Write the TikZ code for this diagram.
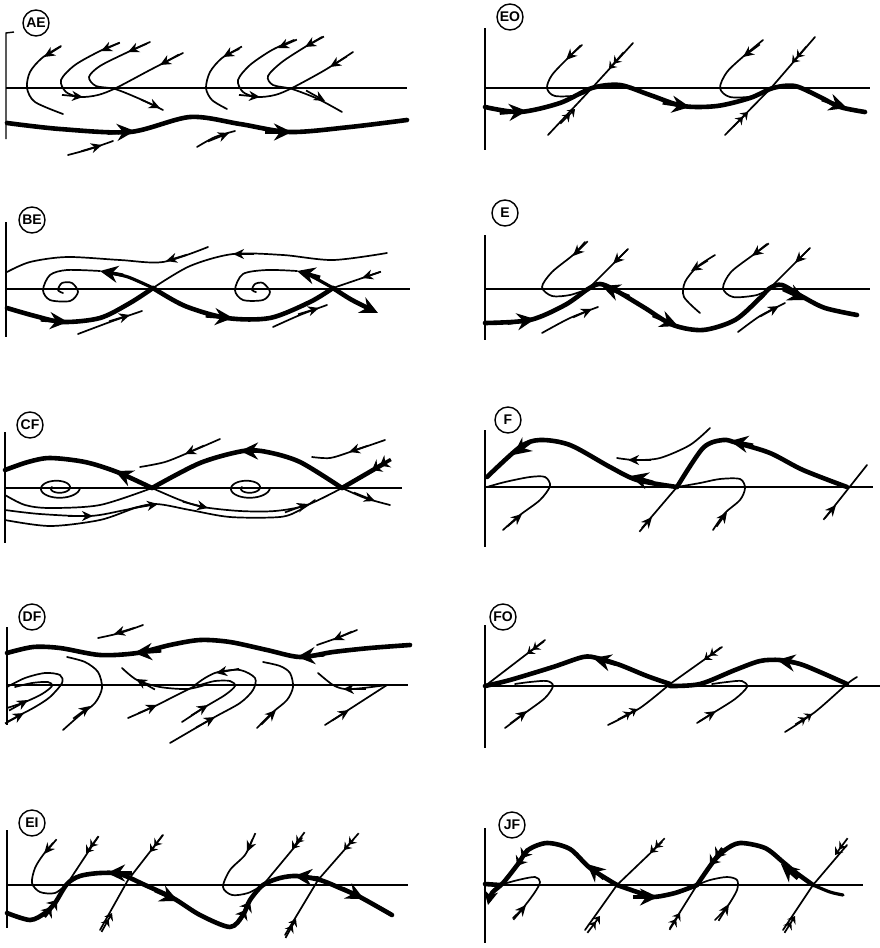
\documentclass[tikz,border=0pt]{standalone}
\usepackage{fontspec}
\setmainfont{Liberation Sans}
\usetikzlibrary{arrows.meta,calc}
\tikzset{
  tl/.style={line width=1.7pt, line cap=round, line join=round},
  tk/.style={line width=4.6pt, line cap=round, line join=round},
  ax/.style={line width=1.4pt},
  lab/.style={draw, circle, line width=1.4pt, minimum size=26pt, inner sep=0pt, font=\bfseries\fontsize{14}{14}\selectfont},
  ah/.style={line width=1.7pt, -{Stealth[length=11pt,width=10pt,inset=3.5pt]}},
  ahd/.style={line width=1.7pt, -{Stealth[length=7pt,width=10pt,inset=2.5pt]Stealth[length=7pt,width=10pt,inset=2.5pt]}},
  ahk/.style={line width=3.5pt, -{Stealth[length=18pt,width=17pt,inset=6pt]}},
  ahkd/.style={line width=3.5pt, -{Stealth[length=9pt,width=14pt,inset=3pt]Stealth[length=9pt,width=14pt,inset=3pt]}},
}
\newcommand\arw[3]{\draw[#1] ($(#3)!2.1!(#2)$) -- (#3);}
\begin{document}
\begin{tikzpicture}[x=1pt,y=-1pt]
\useasboundingbox (0,0) rectangle (879,948);

% ================= AE =================
\node[lab] (lAE) at (36,23) {AE};
\draw[ax] (14,32) -- (6,33) -- (6,139);
\draw[ax] (6,88) -- (407,88);
\draw[tk] plot[smooth] coordinates {(7,123) (60,129) (130,132) (190,117) (240,124) (290,132) (350,127) (407,120)};
\arw{ahk}{122,132}{135,131}
\arw{ahk}{279,132}{292,132}
\draw[tl] plot[smooth] coordinates {(68,155) (90,149) (113,141)};
\arw{ah}{92,148}{102,145}
\draw[tl] plot[smooth] coordinates {(197,147) (215,137) (235,131)};
\arw{ah}{219,137}{229,133}
\draw[tl] plot[smooth] coordinates {(61,46) (42,58) (30,72) (27,88) (35,102) (63,114)};
\arw{ah}{52,52}{44,57}
\draw[tl] plot[smooth] coordinates {(119,43) (100,51) (75,65) (61,80) (66,92) (80,97) (98,95) (116,88) (150,70) (183,53)};
\arw{ah}{110,47}{101,51}
\arw{ah}{73,96}{83,97}
\arw{ah}{169,60}{160,65}
\draw[tl] plot[smooth] coordinates {(150,42) (128,52) (100,66) (89,77) (96,86) (115,89) (140,99) (163,110)};
\arw{ah}{137,48}{128,52}
\arw{ah}{151,104}{160,108}
\draw[tl] plot[smooth] coordinates {(239,49) (222,58) (210,72) (206,88) (212,100) (227,109)};
\arw{ah}{232,52}{223,57}
\draw[tl] plot[smooth] coordinates {(294,40) (272,50) (250,65) (238,80) (243,92) (257,97) (275,95) (292,88) (325,70) (353,52)};
\arw{ah}{287,44}{278,48}
\arw{ah}{250,96}{260,97}
\arw{ah}{338,62}{330,67}
\draw[tl] plot[smooth] coordinates {(322,37) (305,47) (282,62) (268,76) (273,85) (292,89) (318,99) (342,112)};
\arw{ah}{314,42}{305,47}
\arw{ah}{316,96}{325,101}

% ================= EO =================
\node[lab] (lEO) at (510,17) {EO};
\draw[ax] (485,28) -- (485,150);
\draw[ax] (485,88) -- (870,88);
\draw[tk] plot[smooth] coordinates {(485,107) (520,112) (560,103) (592,88) (620,85) (650,95) (683,106) (717,106) (750,98) (773,88) (795,86) (820,97) (840,107) (865,112)};
\arw{ahk}{514,112}{527,111}
\arw{ahk}{677,105}{690,107}
\arw{ahk}{835,104}{847,108}
\draw[tl] plot[smooth] coordinates {(582,45) (568,58) (552,75) (547,88) (555,96) (580,95) (592,88)};
\arw{ah}{573,53}{566,60}
\draw[tl] (633,43) -- (592,88);
\arw{ahd}{616,61}{609,69}
\draw[tl] (548,135) -- (592,88);
\arw{ahd}{568,116}{575,109}
\draw[tl] plot[smooth] coordinates {(763,40) (745,55) (727,72) (720,88) (730,97) (755,96) (771,88)};
\arw{ah}{751,51}{743,57}
\draw[tl] (815,37) -- (771,88);
\arw{ahd}{799,55}{792,63}
\draw[tl] (725,135) -- (771,88);
\arw{ahd}{741,119}{748,112}

% ================= BE =================
\node[lab] (lBE) at (32,220) {BE};
\draw[ax] (6,222) -- (6,337);
\draw[ax] (6,289) -- (410,289);
\draw[tk] plot[smooth] coordinates {(7,308) (35,316) (63,322) (100,318) (130,303) (153,288)};
\arw{ahk}{55,321}{68,322}
\draw[tk] plot[smooth] coordinates {(153,288) (185,306) (227,318) (270,318) (310,302) (333,288)};
\arw{ahk}{220,317}{233,318}
\draw[tk, -{Stealth[length=18pt,width=17pt,inset=6pt]}] plot[smooth] coordinates {(333,288) (352,300) (378,313)};
\draw[line width=3.2pt, line cap=round] plot[smooth] coordinates {(153,288) (128,277) (106,272)};
\arw{ahk}{111,273}{100,271}
\draw[line width=3.2pt, line cap=round] plot[smooth] coordinates {(333,288) (315,278) (303,272)};
\arw{ahk}{308,274}{297,271}
\draw[tl] plot[smooth] coordinates {(100,271) (67,270) (50,275) (43,290) (50,300) (70,301) (78,292) (72,283) (62,283) (58,290) (63,293)};
\draw[tl] plot[smooth] coordinates {(297,271) (267,270) (243,274) (235,290) (243,300) (263,300) (270,292) (263,283) (255,284) (252,290) (256,292)};
\draw[tl] plot[smooth] coordinates {(208,247) (163,262) (120,260) (67,257) (30,262) (7,272)};
\arw{ah}{176,258}{166,261}
\draw[tl] plot[smooth] coordinates {(387,253) (333,260) (283,255) (233,254) (190,266) (153,288)};
\arw{ah}{243,254}{233,254}
\draw[tl] (380,272) -- (333,288);
\arw{ah}{371,275}{362,278}
\draw[tl] plot[smooth] coordinates {(78,334) (110,322) (142,311)};
\arw{ah}{120,318}{130,315}
\draw[tl] plot[smooth] coordinates {(273,327) (300,315) (327,305)};
\arw{ah}{309,311}{319,308}

% ================= E =================
\node[lab] (lE) at (505,213) {E};
\draw[ax] (485,235) -- (485,340);
\draw[ax] (485,289) -- (870,289);
\draw[tk] plot[smooth] coordinates {(485,323) (530,320) (565,305) (588,289) (600,284) (615,290) (645,308) (673,325) (703,330) (735,320) (760,298) (770,288) (782,285) (803,297) (825,308) (857,315)};
\arw{ahk}{522,321}{535,319}
\arw{ahk}{615,291}{602,286}
\arw{ahk}{666,321}{678,326}
\arw{ahk}{795,295}{806,300}
\draw[tl] plot[smooth] coordinates {(585,242) (573,255) (552,272) (542,287) (552,296) (570,295) (588,289)};
\arw{ah}{580,249}{573,256}
\draw[tl] (628,249) -- (588,289);
\arw{ah}{620,257}{613,264}
\draw[tl] plot[smooth] coordinates {(542,333) (570,318) (598,307)};
\arw{ah}{583,313}{592,309}
\draw[tl] plot[smooth] coordinates {(715,255) (697,267) (685,282) (684,297) (700,313)};
\arw{ah}{699,266}{691,271}
\draw[tl] plot[smooth] coordinates {(767,244) (753,255) (731,272) (723,288) (733,297) (757,295) (770,288)};
\arw{ah}{760,250}{752,256}
\draw[tl] (810,248) -- (770,288);
\arw{ah}{802,256}{795,263}
\draw[tl] plot[smooth] coordinates {(738,332) (760,316) (785,303)};
\arw{ah}{770,311}{779,306}

% ================= CF =================
\node[lab] (lCF) at (30,425) {CF};
\draw[ax] (5,432) -- (5,543);
\draw[ax] (5,488) -- (402,488);
\draw[tk] plot[smooth] coordinates {(152,488) (117,472) (85,462) (50,458) (28,462) (5,470)};
\arw{ahk}{124,475}{115,471}
\draw[tk] plot[smooth] coordinates {(342,488) (300,462) (267,452) (243,451) (200,463) (152,488)};
\arw{ahk}{252,451}{240,451}
\draw[tk] (385,463) -- (342,488);
\arw{ahkd}{381,465}{372,470}
\draw[tl] plot[smooth] coordinates {(5,495) (25,505) (50,508) (100,505) (152,488)};
\draw[tl] plot[domain=0:560, samples=90, smooth, variable=\t] ({58+(22-0.028*\t)*cos(\t)}, {488+0.5*(22-0.028*\t)*sin(\t)});
\draw[tl] plot[domain=0:560, samples=90, smooth, variable=\t] ({248+(22-0.028*\t)*cos(\t)}, {488+0.5*(22-0.028*\t)*sin(\t)});
\draw[tl] plot[smooth] coordinates {(152,488) (180,500) (203,507) (240,511) (275,511) (307,505) (342,488)};
\arw{ah}{196,505}{208,508}
\arw{ah}{297,508}{308,504}
\draw[tl] plot[smooth] coordinates {(5,510) (40,514) (90,516) (125,510) (155,504) (190,510) (230,517) (280,517) (300,510) (315,500)};
\arw{ah}{81,516}{93,516}
\arw{ah}{146,506}{158,504}
\draw[tl] plot[smooth] coordinates {(5,520) (50,526) (100,520) (135,508) (155,504)};
\draw[tl] plot[smooth] coordinates {(220,439) (190,452) (165,462) (140,467)};
\arw{ah}{194,450}{185,454}
\draw[tl] plot[smooth] coordinates {(385,440) (350,452) (330,458) (312,457)};
\arw{ah}{358,449}{349,452}
\draw[tl] plot[smooth] coordinates {(342,488) (365,498) (390,505)};
\arw{ah}{365,497}{375,501}

% ================= F =================
\node[lab] (lF) at (508,420) {F};
\draw[ax] (485,430) -- (485,547);
\draw[ax] (485,487) -- (873,487);
\draw[tk] plot[smooth] coordinates {(677,487) (637,480) (610,467) (570,445) (540,440) (520,447) (487,477)};
\arw{ahk}{641,479}{630,476}
\arw{ahk}{521,449}{513,455}
\draw[tk] plot[smooth] coordinates {(847,487) (803,470) (770,453) (737,443) (723,440) (703,448) (677,487)};
\arw{ahk}{741,443}{730,441}
\draw[tl] plot[smooth] coordinates {(503,530) (520,515) (540,500) (550,486) (545,477) (530,477) (505,482) (487,487)};
\arw{ah}{515,520}{522,514}
\draw[tl] plot[smooth] coordinates {(713,530) (725,513) (740,500) (745,488) (740,479) (720,479) (700,483) (677,487)};
\arw{ah}{722,519}{727,512}
\draw[tl] (642,528) -- (677,487);
\arw{ah}{646,524}{652,517}
\draw[tl] plot[smooth] coordinates {(710,428) (690,445) (660,458) (635,460) (617,458)};
\arw{ah}{639,460}{628,460}
\draw[tl] (825,518) -- (867,465);
\arw{ah}{830,512}{836,505}

% ================= DF =================
\node[lab] (lDF) at (32,617) {DF};
\draw[ax] (7,627) -- (7,725);
\draw[ax] (7,685) -- (408,685);
\draw[tk] plot[smooth] coordinates {(410,645) (370,648) (333,652) (300,657) (267,650) (230,642) (200,640) (170,645) (137,653) (100,655) (60,648) (33,647) (7,653)};
\arw{ahk}{310,656}{297,657}
\arw{ahk}{147,652}{134,653}
\draw[tl] plot[smooth] coordinates {(143,625) (120,633) (98,638)};
\arw{ah}{124,631}{114,634}
\draw[tl] plot[smooth] coordinates {(357,630) (337,638) (317,645)};
\arw{ah}{342,636}{333,640}
\draw[tl] plot[smooth] coordinates {(7,722) (20,715) (35,707) (50,697) (62,683) (60,675) (45,673) (25,678) (7,687)};
\arw{ah}{15,718}{24,713}
\draw[tl] plot[smooth] coordinates {(7,708) (25,702) (42,694) (52,686) (48,682) (32,683) (15,687)};
\arw{ah}{19,705}{28,700}
\draw[tl] plot[smooth] coordinates {(63,730) (80,715) (95,703) (102,688) (98,672) (85,662) (67,657)};
\arw{ah}{82,712}{90,706}
\draw[tl] plot[smooth] coordinates {(205,685) (187,689) (160,687) (137,680) (122,668)};
\arw{ah}{145,684}{136,679}
\draw[tl] plot[smooth] coordinates {(128,718) (153,707) (175,696) (195,686)};
\arw{ah}{148,709}{157,705}
\draw[tl] plot[smooth] coordinates {(182,722) (205,707) (225,695) (235,686) (230,681) (215,681) (200,685)};
\arw{ah}{200,710}{208,705}
\draw[tl] plot[smooth] coordinates {(170,743) (213,718) (240,703) (253,690) (255,678) (240,670) (218,672) (205,678) (195,685)};
\arw{ah}{206,722}{215,717}
\arw{ah}{227,671}{216,673}
\draw[tl] plot[smooth] coordinates {(257,728) (273,712) (287,700) (293,687) (290,673) (280,666) (263,662)};
\arw{ah}{269,717}{276,710}
\draw[tl] (325,725) -- (387,685);
\arw{ah}{341,715}{349,710}
\draw[tl] plot[smooth] coordinates {(387,685) (363,688) (345,689) (333,685) (318,673)};
\arw{ah}{354,689}{343,689}

% ================= FO =================
\node[lab] (lFO) at (503,617) {FO};
\draw[ax] (485,625) -- (485,748);
\draw[ax] (485,686) -- (880,686);
\draw[tk] plot[smooth] coordinates {(670,684) (647,676) (620,665) (597,658) (583,657) (553,667) (510,680) (485,686)};
\arw{ahk}{604,661}{593,658}
\draw[tk] plot[smooth] coordinates {(847,684) (820,672) (800,664) (780,660) (760,661) (735,670) (700,684) (670,686)};
\arw{ahk}{789,662}{777,660}
\draw[tl] (545,640) -- (485,686);
\arw{ahd}{535,648}{527,654}
\draw[tl] plot[smooth] coordinates {(505,728) (525,713) (545,698) (553,686) (547,681) (530,682) (515,684)};
\arw{ah}{519,717}{527,711}
\draw[tl] (722,647) -- (670,684);
\arw{ahd}{712,654}{704,660}
\draw[tl] plot[smooth] coordinates {(608,725) (640,708) (670,684)};
\arw{ahd}{628,714}{637,709}
\draw[tl] plot[smooth] coordinates {(697,723) (713,713) (735,699) (747,687) (742,681) (727,682) (712,684)};
\arw{ah}{708,716}{716,711}
\draw[tl] plot[smooth] coordinates {(785,732) (815,712) (847,684) (857,677)};
\arw{ahd}{804,719}{812,714}

% ================= EI =================
\node[lab] (lEI) at (32,823) {EI};
\draw[ax] (7,830) -- (7,928);
\draw[ax] (7,885) -- (408,885);
\draw[tk] plot[smooth] coordinates {(7,913) (30,920) (45,913) (55,903) (67,884) (80,876) (100,873) (120,874) (145,885) (173,898) (200,915) (230,927) (243,915) (250,900) (263,885) (280,878) (297,876) (320,880) (340,888) (360,897) (392,915)};
\arw{ahkd}{51,908}{57,900}
\arw{ahk}{119,873}{107,873}
\arw{ahk}{167,896}{178,901}
\arw{ahkd}{245,911}{250,902}
\arw{ahk}{306,877}{294,876}
\arw{ahk}{354,894}{364,899}
\draw[tl] plot[smooth] coordinates {(53,843) (43,855) (35,868) (32,883) (40,892) (55,893) (67,884)};
\arw{ah}{50,847}{44,854}
\draw[tl] (98,837) -- (67,884);
\arw{ahd}{92,845}{86,853}
\draw[tl] (163,835) -- (128,880);
\arw{ahd}{156,844}{150,852}
\draw[tl] (100,930) -- (128,880);
\arw{ahd}{107,922}{112,913}
\draw[tl] plot[smooth] coordinates {(252,840) (245,855) (230,870) (223,887) (232,895) (248,893) (263,885)};
\arw{ah}{251,843}{247,852}
\draw[tl] (302,838) -- (263,885);
\arw{ahd}{298,841}{292,849}
\draw[tl] (353,840) -- (318,880);
\arw{ahd}{351,842}{344,850}
\draw[tl] (285,935) -- (318,880);
\arw{ahd}{291,928}{296,919}

% ================= JF =================
\node[lab] (lJF) at (512,825) {JF};
\draw[ax] (485,828) -- (485,943);
\draw[ax] (485,885) -- (863,885);
\draw[tk, -{Stealth[length=14pt,width=14pt,inset=4pt]}] plot[smooth] coordinates {(617,885) (590,868) (570,849) (547,843) (528,850) (518,864) (503,883) (492,893) (488,905)};
\arw{ahk}{595,871}{587,864}
\arw{ahkd}{522,858}{517,866}
\draw[tk] (485,884) -- (500,885);
\draw[tk] plot[smooth] coordinates {(617,885) (640,893) (653,897) (675,893) (697,885)};
\arw{ahk}{646,897}{658,897}
\draw[tk] plot[smooth] coordinates {(813,885) (795,872) (783,862) (765,848) (740,843) (725,850) (713,862) (697,885)};
\arw{ahk}{789,871}{781,864}
\arw{ahkd}{716,857}{710,865}
\draw[line width=3.2pt, line cap=round] plot[smooth] coordinates {(813,885) (830,892) (843,895)};
\draw[tl] plot[smooth] coordinates {(513,918) (523,908) (535,892) (540,882) (535,877) (518,880) (500,885)};
\arw{ah}{520,912}{526,905}
\draw[tl] (662,842) -- (617,885);
\arw{ahd}{657,846}{650,853}
\draw[tl] (585,930) -- (617,885);
\arw{ahd}{594,924}{600,916}
\draw[tl] (670,928) -- (697,885);
\arw{ahd}{675,921}{680,913}
\draw[tl] plot[smooth] coordinates {(715,920) (727,907) (737,890) (737,880) (727,877) (710,880) (697,885)};
\arw{ah}{724,912}{729,904}
\draw[tl] (847,845) -- (813,885);
\arw{ahd}{841,847}{835,855}
\draw[tl] (783,930) -- (813,885);
\arw{ahd}{790,924}{795,916}
\end{tikzpicture}
\end{document}
